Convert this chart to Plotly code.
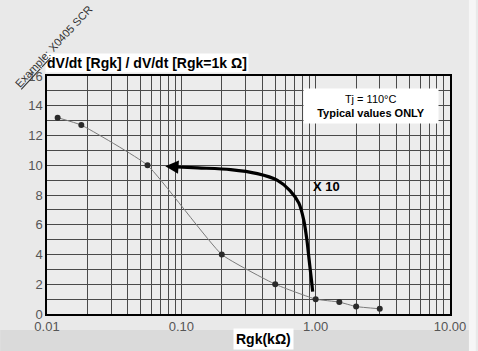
import numpy as np
import plotly.graph_objects as go

# Measured points: dV/dt ratio vs Rgk (kOhm)
rgk_k = [0.012, 0.018, 0.056, 0.2, 0.5, 1.0, 1.5, 2.0, 3.0]
ratio = [13.2, 12.7, 10.0, 4.0, 2.0, 1.0, 0.8, 0.5, 0.35]

# "X 10" illustrative arrow curve
arrow_x = [0.95, 0.935, 0.89, 0.86, 0.816, 0.75, 0.644, 0.516, 0.368, 0.233, 0.133, 0.085]
arrow_y = [1.5, 2.1, 3.8, 5.0, 6.3, 7.45, 8.3, 9.0, 9.44, 9.71, 9.82, 9.9]
arrow_tip = (0.076, 9.93)

# Axis ticks
x_decades = [0.01, 0.1, 1, 10]
x_decade_labels = ["0.01", "0.10", "1.00", "10.00"]
y_ticks = list(range(0, 17))

x_grid = sorted({round(m * d, 6) for d in [0.01, 0.1, 1] for m in range(1, 10)} | {10})
x_text = [x_decade_labels[x_decades.index(v)] if v in x_decades else "" for v in x_grid]
y_text = [str(v) if v % 2 == 0 else "" for v in y_ticks]

FONT = "Liberation Sans, Arial, sans-serif"
GRID = "#4a4a4a"

# plot area in pixels
L, R, T, B = 47, 452, 76, 314
PW, PH = R - L, B - T


def px(x):
    return (x - L) / PW


def py(y):
    return (B - y) / PH


fig = go.Figure()

fig.add_trace(go.Scatter(
    x=rgk_k, y=ratio, mode="lines+markers",
    line=dict(color="#7a7a7a", width=1, shape="spline", smoothing=0.4),
    marker=dict(color="#2a2a2a", size=6),
    hoverinfo="skip", showlegend=False,
))

fig.add_trace(go.Scatter(
    x=arrow_x, y=arrow_y, mode="lines",
    line=dict(color="black", width=3.2, shape="spline", smoothing=0.8),
    hoverinfo="skip", showlegend=False,
))

# Arrow head
fig.add_annotation(
    x=np.log10(arrow_tip[0]), y=arrow_tip[1], xref="x", yref="y",
    ax=np.log10(arrow_x[-1]), ay=arrow_y[-1], axref="x", ayref="y",
    text="", showarrow=True, arrowhead=2, arrowsize=1.2, arrowwidth=2.2,
    arrowcolor="black", standoff=0,
)

fig.update_layout(
    width=478, height=351,
    margin=dict(l=L, r=478 - R, t=T, b=351 - B),
    paper_bgcolor="#e9e9e9", plot_bgcolor="#ececec",
    font=dict(family=FONT, size=12, color="#555555"),
    xaxis=dict(
        type="log", range=[-2, 1], tickmode="array", tickvals=x_grid, ticktext=x_text,
        showgrid=True, gridcolor=GRID, gridwidth=1,
        showline=True, linecolor="black", linewidth=1.5, mirror=True,
        ticks="", tickfont=dict(size=13, color="#555555"), zeroline=False,
    ),
    yaxis=dict(
        range=[0, 16], tickmode="array", tickvals=y_ticks, ticktext=y_text,
        showgrid=True, gridcolor=GRID, gridwidth=1,
        showline=True, linecolor="black", linewidth=1.5, mirror=True,
        ticks="", tickfont=dict(size=13, color="#555555"), zeroline=False,
    ),
    showlegend=False,
)

# Bottom textured band (approximation)
fig.add_shape(type="rect", xref="paper", yref="paper", x0=px(0), x1=px(478),
              y0=py(351), y1=py(330), fillcolor="#dadada", line_width=0, layer="below")
fig.add_shape(type="rect", xref="paper", yref="paper", x0=px(471), x1=px(478),
              y0=py(351), y1=py(0), fillcolor="#f6f6f6", line_width=0, layer="below")

# Title box
fig.add_annotation(
    x=px(45), y=py(63), xref="paper", yref="paper",
    text="<b>dV/dt [Rgk] / dV/dt [Rgk=1k Ω]</b>",
    showarrow=False, font=dict(family=FONT, size=14, color="black"),
    bgcolor="white", xanchor="left", yanchor="middle", borderpad=1,
)

# Info box
fig.add_annotation(
    x=px(373), y=py(106), xref="paper", yref="paper",
    text="Tj = 110°C<br><b>Typical values ONLY</b>", showarrow=False,
    font=dict(family=FONT, size=11, color="black"), bgcolor="white",
    align="center", borderpad=4, width=126, xanchor="center", yanchor="middle",
)

# X 10 label
fig.add_annotation(
    x=px(328), y=py(186), xref="paper", yref="paper",
    text="<b>X 10</b>", showarrow=False, font=dict(family=FONT, size=13, color="black"),
    xanchor="center", yanchor="middle",
)

# X axis title box
fig.add_annotation(
    x=px(265), y=py(339), xref="paper", yref="paper",
    text="<b>Rgk(kΩ)</b>", showarrow=False, font=dict(family=FONT, size=14, color="black"),
    bgcolor="white", borderpad=2, xanchor="center", yanchor="middle",
)

# Rotated example label
fig.add_annotation(
    x=px(54), y=py(46), xref="paper", yref="paper",
    text="<u>Example</u>: X0405 SCR", showarrow=False, textangle=-47,
    font=dict(family=FONT, size=11, color="#333333"),
    xanchor="center", yanchor="middle",
)

# Cut-off page heading at top
fig.add_annotation(
    x=px(316), y=py(-29), xref="paper", yref="paper",
    text="<b>of Sensitive SCR</b>", showarrow=False, yanchor="top", xanchor="center",
    font=dict(family=FONT, size=30, color="#222222"),
)

fig.write_html("out.html")
